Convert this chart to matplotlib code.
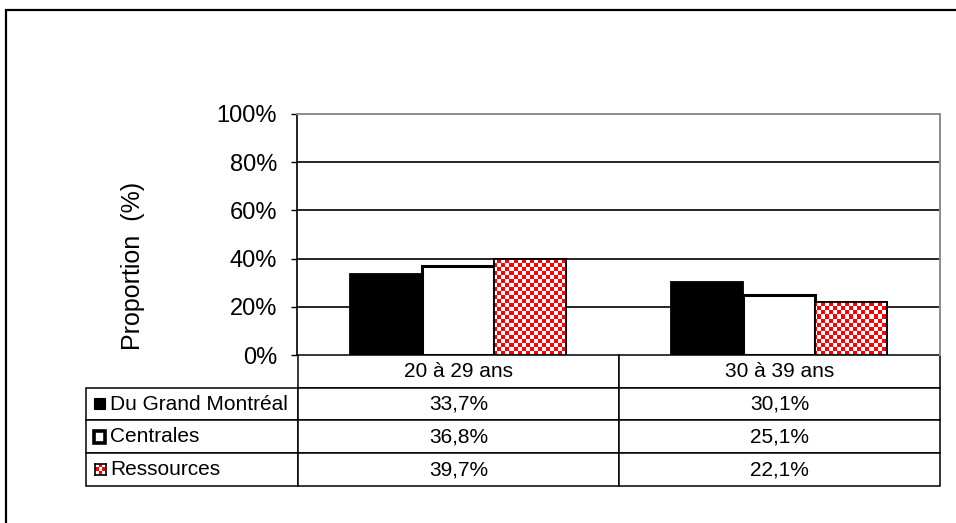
import matplotlib
matplotlib.use("Agg")
import matplotlib.pyplot as plt
import numpy as np
from matplotlib.patches import Rectangle

plt.rcParams['font.family'] = ['Liberation Sans', 'DejaVu Sans']

categories = ['20 à 29 ans', '30 à 39 ans']
series_names = ['Du Grand Montréal', 'Centrales', 'Ressources']
grand_montreal = [33.7, 30.1]
centrales = [36.8, 25.1]
ressources = [39.7, 22.1]
values = [grand_montreal, centrales, ressources]

W, H = 956, 523
fig = plt.figure(figsize=(W / 100, H / 100), dpi=100)

# plot area in pixels: x 297..940, y 114..355
ax = fig.add_axes([297 / W, 1 - 355 / H, 643 / W, 241 / H])

# outer frame (runs off the right and bottom edges)
fig.patches.append(Rectangle((6 / W, -0.2), 1.2, 1.2 - 10 / H, transform=fig.transFigure,
                             fill=False, edgecolor='black', linewidth=1.6))

x = np.arange(len(categories))
bw = 0.224
offsets = [-bw, 0, bw]


def checker(ny, nx):
    grid = np.indices((ny, nx)).sum(axis=0) % 2
    img = np.ones((ny, nx, 3))
    img[grid == 1] = [1.0, 0.0, 0.0]
    return img


for i, vals in enumerate(values):
    if i == 0:
        ax.bar(x + offsets[i], vals, bw, color='black', edgecolor='black', linewidth=1.3, zorder=3)
    elif i == 1:
        ax.bar(x + offsets[i], vals, bw, color='white', edgecolor='black', linewidth=2.2, zorder=3)
    else:
        bars = ax.bar(x + offsets[i], vals, bw, color='white', edgecolor='black', linewidth=1.3, zorder=3)
        pattern = checker(241 // 4 + 1, 643 // 4 + 1)
        for b in bars:
            im = ax.imshow(pattern, extent=(-0.5, -0.5 + 2 * (643 // 4 + 1) * 4 / 643, 0,
                                            100 * (241 // 4 + 1) * 4 / 241),
                           origin='lower', aspect='auto', interpolation='nearest', zorder=3.5)
            im.set_clip_path(b)
        ax.bar(x + offsets[i], vals, bw, color='none', edgecolor='black', linewidth=1.3, zorder=4)

ax.set_xlim(-0.5, 1.5)
ax.set_ylim(0, 100)
ax.set_yticks([0, 20, 40, 60, 80, 100])
ax.set_yticklabels([f'{t}%' for t in range(0, 101, 20)], fontsize=17)
ax.tick_params(axis='y', direction='out', length=4.3, width=1, pad=10)
ax.set_xticks([])
for t in [20, 40, 60, 80]:
    ax.axhline(t, color='black', linewidth=1.2, zorder=1)
ax.spines['left'].set_linewidth(1.2)
ax.spines['top'].set_color('#8c8c8c')
ax.spines['right'].set_color('#8c8c8c')
ax.spines['top'].set_linewidth(1.4)
ax.spines['right'].set_linewidth(1.4)
ax.spines['bottom'].set_visible(False)

ax.set_ylabel('Proportion  (%)', fontsize=18)
ax.yaxis.set_label_coords(-0.236, 0.369)

# data table below the plot
def fmt(v):
    return f'{v:.1f}'.replace('.', ',') + '%'

cell_text = [[''] + categories]
for name, vals in zip(series_names, values):
    cell_text.append([name] + [fmt(v) for v in vals])

tbl = ax.table(cellText=cell_text, cellLoc='center',
               colWidths=[212, 322, 321],
               bbox=[(86 - 297) / 643, -(486 - 355) / 241, (940 - 86) / 643, (486 - 355) / 241])
tbl.auto_set_font_size(False)
tbl.set_fontsize(15)
for (r, c), cell in tbl.get_celld().items():
    cell.set_linewidth(1.1)
    cell.set_edgecolor('black')
    if c == 0:
        cell.get_text().set_horizontalalignment('left')
        cell.PAD = 0.113
    if r == 0 and c == 0:
        cell.visible_edges = ''

# legend keys inside the first column
def fig_rect(px, py, w, h, **kw):
    fig.patches.append(Rectangle((px / W, 1 - (py + h) / H), w / W, h / H,
                                 transform=fig.transFigure, **kw))

fig_rect(94, 398, 11, 11, facecolor='black', edgecolor='black', linewidth=0.8)
fig_rect(93.5, 431, 11.5, 11.5, facecolor='white', edgecolor='black', linewidth=2.6)
kax = fig.add_axes([95 / W, 1 - 475 / H, 11 / W, 11 / H])
kax.imshow(checker(3, 3), interpolation='nearest', aspect='auto')
kax.set_xticks([])
kax.set_yticks([])
for s in kax.spines.values():
    s.set_linewidth(1.2)

fig.savefig('out.png', dpi=100)
